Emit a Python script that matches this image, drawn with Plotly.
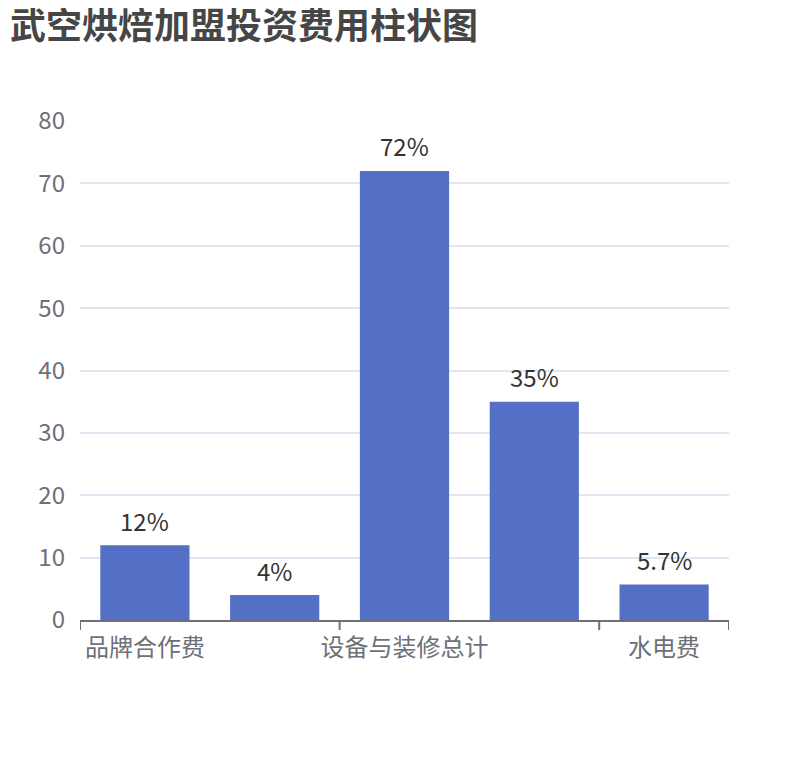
import plotly.graph_objects as go

categories = ["品牌合作费", "店面租金", "设备与装修总计", "首批进货费", "水电费"]
values = [12, 4, 72, 35, 5.7]
value_labels = ["12%", "4%", "72%", "35%", "5.7%"]
shown_ticks = ["品牌合作费", "设备与装修总计", "水电费"]
y_ticks = [0, 10, 20, 30, 40, 50, 60, 70, 80]

FONT = "Noto Sans CJK SC, Noto Sans, sans-serif"
AXIS_COLOR = "#6E7079"
GRID_COLOR = "#E0E6F1"
BAR_COLOR = "#5470C6"

W, H = 794, 744  # page adds an 8px body margin around the figure

fig = go.Figure(
    go.Bar(
        x=categories,
        y=values,
        marker=dict(color=BAR_COLOR, line=dict(width=0)),
        cliponaxis=False,
        hoverinfo="x+y",
    )
)

# value labels above bars
for c, v, t in zip(categories, values, value_labels):
    fig.add_annotation(
        x=c, y=v, text=t, showarrow=False,
        yanchor="middle", yshift=25,
        font=dict(size=24, color="#333333", family=FONT),
    )

# category boundary tick marks (ECharts boundaryGap style, interval 2)
for b in [-0.5, 1.5, 3.5, 4.5]:
    fig.add_shape(
        type="line", xref="x", yref="paper",
        x0=b, x1=b, y0=0, y1=-0.02,
        line=dict(color=AXIS_COLOR, width=2),
    )

fig.update_layout(
    width=W,
    height=H,
    margin=dict(l=72, r=73, t=113, b=132),
    paper_bgcolor="white",
    plot_bgcolor="white",
    font=dict(family=FONT, color=AXIS_COLOR),
    showlegend=False,
    bargap=0.313,
    title=dict(
        text="<b>武空烘焙加盟投资费用柱状图</b>",
        font=dict(size=36, color="#464646", family=FONT),
        x=2 / W,
        xanchor="left",
        xref="container",
        y=1 - 18 / H,
        yanchor="middle",
        yref="container",
    ),
    xaxis=dict(
        type="category",
        range=[-0.5, 4.5],
        showline=True,
        linecolor=AXIS_COLOR,
        linewidth=2,
        showgrid=False,
        ticks="",
        tickmode="array",
        tickvals=shown_ticks,
        ticktext=shown_ticks,
        tickfont=dict(size=24, color=AXIS_COLOR, family=FONT),
        ticklabelstandoff=5,
        zeroline=False,
    ),
    yaxis=dict(
        range=[0, 80],
        tickmode="array",
        tickvals=y_ticks,
        showgrid=True,
        gridcolor=GRID_COLOR,
        gridwidth=2,
        showline=False,
        zeroline=False,
        ticks="",
        tickfont=dict(size=24, color=AXIS_COLOR, family=FONT),
        ticklabelstandoff=14,
    ),
)

fig.write_html("out.html")
